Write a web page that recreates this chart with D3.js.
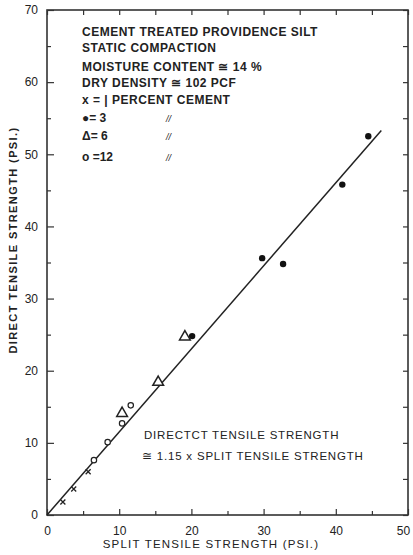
<!DOCTYPE html>
<html lang="en">
  <head>
    <meta charset="UTF-8" />
    <title>Direct vs split tensile strength</title>
    <script src="https://d3js.org/d3.v7.min.js"></script>
    <style>
      body { margin: 0; background: #fff; }
      text { font-family: "Liberation Sans", Arial, sans-serif; fill: #222; }
    </style>
  </head>
  <body>
    <div id="chart"></div>
    <script>
      // data (split, direct) in psi
      var onePct = [[2.2, 1.8], [3.7, 3.6], [5.7, 6.0]];
      var threePct = [[20.1, 24.8], [29.8, 35.6], [32.7, 34.8], [40.9, 45.8], [44.5, 52.5]];
      var sixPct = [[10.4, 14.1], [15.4, 18.4], [19.1, 24.7]];
      var twelvePct = [[6.5, 7.6], [8.4, 10.1], [10.4, 12.7], [11.6, 15.2]];
      var fitLine = [[0, 0], [46.3, 53.3]];
      var xTicks = [0, 10, 20, 30, 40, 50];
      var yTicks = [0, 10, 20, 30, 40, 50, 60, 70];
      var minorTicks = [5, 15, 25, 35, 45, 55, 65];
      var notes = [
        "CEMENT TREATED PROVIDENCE SILT",
        "STATIC COMPACTION",
        "MOISTURE CONTENT \u2245 14 %",
        "DRY DENSITY \u2245 102 PCF",
        "x =  | PERCENT CEMENT"
      ];
      var legendRows = [["\u25CF= 3", "//"], ["\u0394= 6", "//"], ["o =12", "//"]];

      var W = 413, H = 555;
      var margin = { top: 10, right: 5, bottom: 40, left: 47 };
      var width = W - margin.left - margin.right,
        height = H - margin.top - margin.bottom;

      var svg = d3.select("#chart").append("svg").attr("width", W).attr("height", H);
      var g = svg.append("g").attr("transform", "translate(" + margin.left + "," + margin.top + ")");

      var x = d3.scaleLinear().domain([0, 50]).range([0, width]);
      var y = d3.scaleLinear().domain([0, 70]).range([height, 0]);

      // frame
      g.append("rect").attr("width", width).attr("height", height)
        .attr("fill", "none").attr("stroke", "#333").attr("stroke-width", 1.6);

      // ticks pointing inward
      var ink = "#333";
      function styleAxis(sel) {
        sel.select(".domain").remove();
        sel.selectAll("line").attr("stroke", ink).attr("stroke-width", 1.2);
        sel.selectAll("text").style("font-family", "Liberation Sans, Arial, sans-serif")
          .style("font-size", "12px").attr("fill", "#222");
      }
      var gx = g.append("g").attr("transform", "translate(0," + height + ")")
        .call(d3.axisBottom(x).tickValues(xTicks).tickSizeInner(-6).tickPadding(11).tickFormat(d3.format("d")))
        .call(styleAxis);
      gx.selectAll(".tick text").filter(d => d === 50).attr("dx", -5);
      g.append("g").attr("transform", "translate(0," + height + ")")
        .call(d3.axisBottom(x).tickValues(minorTicks.filter(d => d < 50)).tickSize(-4).tickFormat(""))
        .call(styleAxis);
      g.append("g")
        .call(d3.axisTop(x).tickValues(xTicks.concat(minorTicks.filter(d => d < 50))).tickSize(-5).tickFormat(""))
        .call(styleAxis);
      g.append("g")
        .call(d3.axisLeft(y).tickValues(yTicks).tickSizeInner(-7).tickPadding(9).tickFormat(d3.format("d")))
        .call(styleAxis);
      g.append("g")
        .call(d3.axisLeft(y).tickValues(minorTicks).tickSize(-4).tickFormat(""))
        .call(styleAxis);
      g.append("g").attr("transform", "translate(" + width + ",0)")
        .call(d3.axisRight(y).tickValues(yTicks.concat(minorTicks)).tickSize(-5).tickFormat(""))
        .call(styleAxis);

      // fitted line
      g.append("path").datum(fitLine)
        .attr("d", d3.line().x(d => x(d[0])).y(d => y(d[1])))
        .attr("fill", "none").attr("stroke", "#222").attr("stroke-width", 1.5);

      // markers
      g.selectAll("path.cross").data(onePct).enter().append("path")
        .attr("class", "cross")
        .attr("transform", d => "translate(" + x(d[0]) + "," + y(d[1]) + ")")
        .attr("d", "M-2.5,-2.5L2.5,2.5M2.5,-2.5L-2.5,2.5")
        .attr("stroke", "#222").attr("stroke-width", 1.3);
      g.selectAll("circle.dot").data(threePct).enter().append("circle")
        .attr("class", "dot").attr("cx", d => x(d[0])).attr("cy", d => y(d[1]))
        .attr("r", 3.2).attr("fill", "#111");
      g.selectAll("path.tri").data(sixPct).enter().append("path")
        .attr("class", "tri")
        .attr("transform", d => "translate(" + x(d[0]) + "," + y(d[1]) + ")")
        .attr("d", d3.symbol().type(d3.symbolTriangle).size(50))
        .attr("fill", "#fff").attr("stroke", "#222").attr("stroke-width", 1.5);
      g.selectAll("circle.ring").data(twelvePct).enter().append("circle")
        .attr("class", "ring").attr("cx", d => x(d[0])).attr("cy", d => y(d[1]))
        .attr("r", 2.7).attr("fill", "#fff").attr("stroke", "#222").attr("stroke-width", 1.2);

      // notes block
      var noteY = [32, 48, 67, 83, 100];
      notes.forEach(function (t, i) {
        svg.append("text").attr("x", 82).attr("y", noteY[i] + 4)
          .style("font-size", "12px").style("font-weight", "bold").style("letter-spacing", "0.5px")
          .text(t);
      });
      var legY = [118, 136, 157];
      legendRows.forEach(function (r, i) {
        svg.append("text").attr("x", 82).attr("y", legY[i] + 4)
          .style("font-size", "12px").style("font-weight", "bold").text(r[0]);
        svg.append("text").attr("x", 166).attr("y", legY[i] + 4)
          .style("font-size", "9px").style("font-style", "italic").text(r[1]);
      });

      svg.append("text").attr("x", 144).attr("y", 439)
        .style("font-size", "11.5px").style("letter-spacing", "0.8px")
        .text("DIRECTCT TENSILE STRENGTH");
      svg.append("text").attr("x", 142).attr("y", 460)
        .style("font-size", "11.5px").style("letter-spacing", "0.8px")
        .text("\u2245 1.15 x SPLIT TENSILE STRENGTH");

      // axis titles
      svg.append("text").attr("x", 211).attr("y", 548).attr("text-anchor", "middle")
        .style("font-size", "11.5px").style("letter-spacing", "1.2px")
        .text("SPLIT TENSILE STRENGTH (PSI.)");
      svg.append("text").attr("transform", "translate(17,240) rotate(-90)")
        .attr("text-anchor", "middle")
        .style("font-size", "11px").style("font-weight", "bold").style("letter-spacing", "1.4px")
        .text("DIRECT TENSILE STRENGTH (PSI.)");
    </script>
  </body>
</html>
